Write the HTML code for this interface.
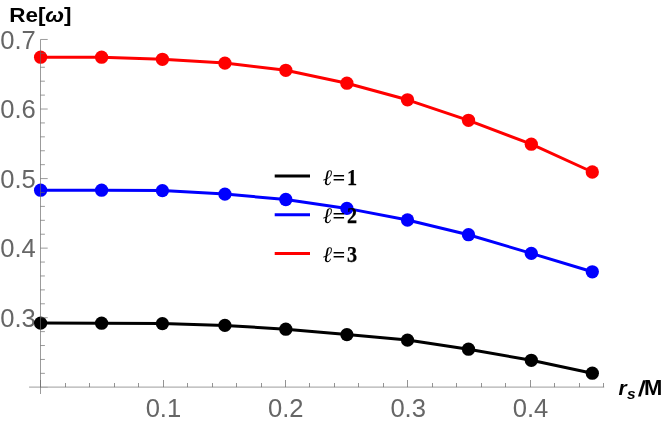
<!DOCTYPE html>
<html><head><meta charset="utf-8"><title>Re[ω] vs r_s/M</title>
<style>html,body{margin:0;padding:0;background:#fff;}body{width:664px;height:425px;overflow:hidden;font-family:"Liberation Sans",sans-serif;}svg{display:block;will-change:transform;}text{font-family:"Liberation Sans",sans-serif;}.tl{font-size:25.6px;fill:#666;}.ax{font-size:21px;font-weight:bold;fill:#000;}.lg{font-family:"Liberation Serif","DejaVu Serif",serif;font-size:22px;font-weight:bold;fill:#000;}</style></head><body>
<svg width="664" height="425" viewBox="0 0 664 425">
<rect width="664" height="425" fill="#fff"/>
<text class="tl" transform="translate(35.8,327.00) scale(1,1.04)" text-anchor="end">0.3</text>
<text class="tl" transform="translate(35.8,257.44) scale(1,1.04)" text-anchor="end">0.4</text>
<text class="tl" transform="translate(35.8,187.88) scale(1,1.04)" text-anchor="end">0.5</text>
<text class="tl" transform="translate(35.8,118.32) scale(1,1.04)" text-anchor="end">0.6</text>
<text class="tl" transform="translate(35.8,48.76) scale(1,1.04)" text-anchor="end">0.7</text>
<text class="tl" transform="translate(145.63,416.5) scale(1,1.04)">0.1</text>
<text class="tl" transform="translate(285.79,416.5) scale(1,1.04)" text-anchor="middle">0.2</text>
<text class="tl" transform="translate(408.16,416.5) scale(1,1.04)" text-anchor="middle">0.3</text>
<text class="tl" transform="translate(530.53,416.5) scale(1,1.04)" text-anchor="middle">0.4</text>
<polyline points="40.6,323.1 101.6,323.2 162.4,323.6 224.9,325.4 285.8,329.2 346.9,334.6 407.5,340.1 468.5,349.2 531.3,360.3 592.3,373.2" fill="none" stroke="#000" stroke-width="3.0" stroke-linejoin="round" stroke-linecap="butt"/>
<circle cx="40.6" cy="323.1" r="6.65" fill="#000"/>
<circle cx="101.6" cy="323.2" r="6.65" fill="#000"/>
<circle cx="162.4" cy="323.6" r="6.65" fill="#000"/>
<circle cx="224.9" cy="325.4" r="6.65" fill="#000"/>
<circle cx="285.8" cy="329.2" r="6.65" fill="#000"/>
<circle cx="346.9" cy="334.6" r="6.65" fill="#000"/>
<circle cx="407.5" cy="340.1" r="6.65" fill="#000"/>
<circle cx="468.5" cy="349.2" r="6.65" fill="#000"/>
<circle cx="531.3" cy="360.3" r="6.65" fill="#000"/>
<circle cx="592.3" cy="373.2" r="6.65" fill="#000"/>
<polyline points="40.6,190.2 101.6,190.2 162.4,190.6 224.9,194.1 285.8,199.5 346.9,208.4 407.5,220.0 468.5,234.7 531.3,253.4 592.3,271.8" fill="none" stroke="#0000ff" stroke-width="3.0" stroke-linejoin="round" stroke-linecap="butt"/>
<circle cx="40.6" cy="190.2" r="6.65" fill="#0000ff"/>
<circle cx="101.6" cy="190.2" r="6.65" fill="#0000ff"/>
<circle cx="162.4" cy="190.6" r="6.65" fill="#0000ff"/>
<circle cx="224.9" cy="194.1" r="6.65" fill="#0000ff"/>
<circle cx="285.8" cy="199.5" r="6.65" fill="#0000ff"/>
<circle cx="346.9" cy="208.4" r="6.65" fill="#0000ff"/>
<circle cx="407.5" cy="220.0" r="6.65" fill="#0000ff"/>
<circle cx="468.5" cy="234.7" r="6.65" fill="#0000ff"/>
<circle cx="531.3" cy="253.4" r="6.65" fill="#0000ff"/>
<circle cx="592.3" cy="271.8" r="6.65" fill="#0000ff"/>
<polyline points="40.6,57.2 101.6,57.2 162.4,59.3 224.9,63.1 285.8,70.3 346.9,83.2 407.5,99.8 468.5,120.3 531.3,144.2 592.3,172.0" fill="none" stroke="#ff0000" stroke-width="3.0" stroke-linejoin="round" stroke-linecap="butt"/>
<circle cx="40.6" cy="57.2" r="6.65" fill="#ff0000"/>
<circle cx="101.6" cy="57.2" r="6.65" fill="#ff0000"/>
<circle cx="162.4" cy="59.3" r="6.65" fill="#ff0000"/>
<circle cx="224.9" cy="63.1" r="6.65" fill="#ff0000"/>
<circle cx="285.8" cy="70.3" r="6.65" fill="#ff0000"/>
<circle cx="346.9" cy="83.2" r="6.65" fill="#ff0000"/>
<circle cx="407.5" cy="99.8" r="6.65" fill="#ff0000"/>
<circle cx="468.5" cy="120.3" r="6.65" fill="#ff0000"/>
<circle cx="531.3" cy="144.2" r="6.65" fill="#ff0000"/>
<circle cx="592.3" cy="172.0" r="6.65" fill="#ff0000"/>
<g stroke="#666" stroke-width="0.66" fill="none">
<line x1="40.5" y1="39.5" x2="40.5" y2="394"/>
<line x1="29.1" y1="387.1" x2="604.2" y2="387.1" stroke-width="0.66"/>
<line x1="40.5" y1="387.26" x2="47.70" y2="387.26" stroke-width="0.3"/>
<line x1="40.5" y1="373.35" x2="44.90" y2="373.35"/>
<line x1="40.5" y1="359.44" x2="44.90" y2="359.44"/>
<line x1="40.5" y1="345.52" x2="44.90" y2="345.52"/>
<line x1="40.5" y1="331.61" x2="44.90" y2="331.61"/>
<line x1="40.5" y1="317.70" x2="47.70" y2="317.70"/>
<line x1="40.5" y1="303.79" x2="44.90" y2="303.79"/>
<line x1="40.5" y1="289.88" x2="44.90" y2="289.88"/>
<line x1="40.5" y1="275.96" x2="44.90" y2="275.96"/>
<line x1="40.5" y1="262.05" x2="44.90" y2="262.05"/>
<line x1="40.5" y1="248.14" x2="47.70" y2="248.14"/>
<line x1="40.5" y1="234.23" x2="44.90" y2="234.23"/>
<line x1="40.5" y1="220.32" x2="44.90" y2="220.32"/>
<line x1="40.5" y1="206.40" x2="44.90" y2="206.40"/>
<line x1="40.5" y1="192.49" x2="44.90" y2="192.49"/>
<line x1="40.5" y1="178.58" x2="47.70" y2="178.58"/>
<line x1="40.5" y1="164.67" x2="44.90" y2="164.67"/>
<line x1="40.5" y1="150.76" x2="44.90" y2="150.76"/>
<line x1="40.5" y1="136.84" x2="44.90" y2="136.84"/>
<line x1="40.5" y1="122.93" x2="44.90" y2="122.93"/>
<line x1="40.5" y1="109.02" x2="47.70" y2="109.02"/>
<line x1="40.5" y1="95.11" x2="44.90" y2="95.11"/>
<line x1="40.5" y1="81.20" x2="44.90" y2="81.20"/>
<line x1="40.5" y1="67.28" x2="44.90" y2="67.28"/>
<line x1="40.5" y1="53.37" x2="44.90" y2="53.37"/>
<line x1="40.5" y1="39.46" x2="47.70" y2="39.46"/>
<line x1="40.50" y1="387.1" x2="40.50" y2="380.00" stroke-width="0.7"/>
<line x1="65.50" y1="387.1" x2="65.50" y2="383.00" stroke-width="0.7"/>
<line x1="89.50" y1="387.1" x2="89.50" y2="383.00" stroke-width="0.7"/>
<line x1="114.50" y1="387.1" x2="114.50" y2="383.00" stroke-width="0.7"/>
<line x1="138.50" y1="387.1" x2="138.50" y2="383.00" stroke-width="0.7"/>
<line x1="163.50" y1="387.1" x2="163.50" y2="380.00" stroke-width="0.7"/>
<line x1="187.50" y1="387.1" x2="187.50" y2="383.00" stroke-width="0.7"/>
<line x1="212.50" y1="387.1" x2="212.50" y2="383.00" stroke-width="0.7"/>
<line x1="236.50" y1="387.1" x2="236.50" y2="383.00" stroke-width="0.7"/>
<line x1="261.50" y1="387.1" x2="261.50" y2="383.00" stroke-width="0.7"/>
<line x1="285.50" y1="387.1" x2="285.50" y2="380.00" stroke-width="0.7"/>
<line x1="309.50" y1="387.1" x2="309.50" y2="383.00" stroke-width="0.7"/>
<line x1="334.50" y1="387.1" x2="334.50" y2="383.00" stroke-width="0.7"/>
<line x1="358.50" y1="387.1" x2="358.50" y2="383.00" stroke-width="0.7"/>
<line x1="383.50" y1="387.1" x2="383.50" y2="383.00" stroke-width="0.7"/>
<line x1="407.50" y1="387.1" x2="407.50" y2="380.00" stroke-width="0.7"/>
<line x1="432.50" y1="387.1" x2="432.50" y2="383.00" stroke-width="0.7"/>
<line x1="456.50" y1="387.1" x2="456.50" y2="383.00" stroke-width="0.7"/>
<line x1="481.50" y1="387.1" x2="481.50" y2="383.00" stroke-width="0.7"/>
<line x1="505.50" y1="387.1" x2="505.50" y2="383.00" stroke-width="0.7"/>
<line x1="530.50" y1="387.1" x2="530.50" y2="380.00" stroke-width="0.7"/>
<line x1="554.50" y1="387.1" x2="554.50" y2="383.00" stroke-width="0.7"/>
<line x1="579.50" y1="387.1" x2="579.50" y2="383.00" stroke-width="0.7"/>
<line x1="603.50" y1="387.1" x2="603.50" y2="383.00" stroke-width="0.7"/>
</g>
<text class="ax" x="9.2" y="22.3" textLength="62.4" lengthAdjust="spacingAndGlyphs">Re[<tspan font-style="italic">ω</tspan>]</text>
<text class="ax" x="618.6" y="395.3" font-style="italic">r<tspan font-size="15.5" dx="0.3" dy="3.3">s</tspan></text>
<text class="ax" transform="translate(637.8,395.5) skewX(-6) scale(1.15,1.03)" x="0" y="0">/</text>
<text class="ax" x="644.1" y="395.3" style="font-size:22px">M</text>
<line x1="274.7" y1="175.9" x2="310" y2="175.9" stroke="#000" stroke-width="3"/>
<text class="lg" x="323" y="184.5" textLength="22.4" lengthAdjust="spacingAndGlyphs"><tspan font-style="italic">ℓ</tspan>=</text>
<text class="lg" x="346.9" y="184.5" style="font-size:23.6px" stroke="#000" stroke-width="0.25" textLength="10.1" lengthAdjust="spacingAndGlyphs">1</text>
<line x1="274.7" y1="214.7" x2="310" y2="214.7" stroke="#0000ff" stroke-width="3"/>
<text class="lg" x="323" y="223.3" textLength="22.4" lengthAdjust="spacingAndGlyphs"><tspan font-style="italic">ℓ</tspan>=</text>
<text class="lg" x="346.9" y="223.3" style="font-size:23.6px" stroke="#000" stroke-width="0.25" textLength="10.1" lengthAdjust="spacingAndGlyphs">2</text>
<line x1="274.7" y1="253.4" x2="310" y2="253.4" stroke="#ff0000" stroke-width="3"/>
<text class="lg" x="323" y="262.0" textLength="22.4" lengthAdjust="spacingAndGlyphs"><tspan font-style="italic">ℓ</tspan>=</text>
<text class="lg" x="346.9" y="262.0" style="font-size:23.6px" stroke="#000" stroke-width="0.25" textLength="10.1" lengthAdjust="spacingAndGlyphs">3</text>
</svg></body></html>
